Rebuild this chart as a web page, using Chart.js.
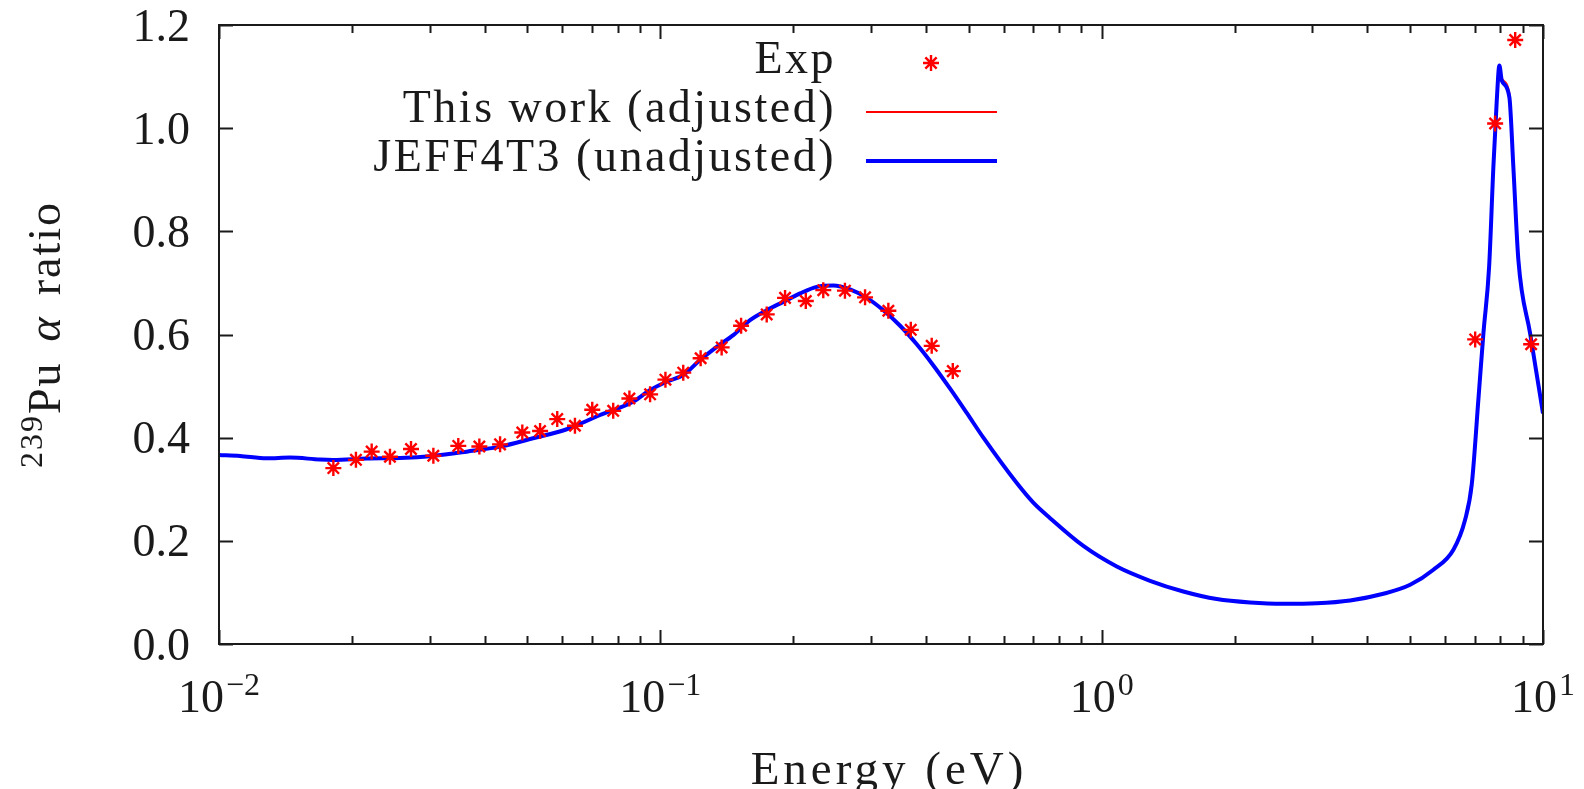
<!DOCTYPE html>
<html>
<head>
<meta charset="utf-8">
<script src="https://cdn.jsdelivr.net/npm/chart.js@4.4.1/dist/chart.umd.min.js"></script>
<style>
  html, body { margin: 0; padding: 0; background: #fff; }
  #wrap { width: 1584px; height: 789px; position: relative; }
</style>
</head>
<body>
<div id="wrap"><canvas id="alphaChart"></canvas></div>
<script>
// 239Pu alpha ratio vs energy — Exp points, adjusted and JEFF4T3 curves

const expEnergy = [0.01816, 0.02043, 0.02218, 0.0244, 0.02723, 0.0306, 0.03485, 0.0389, 0.04334, 0.04867,
  0.0534, 0.0584, 0.06405, 0.0701, 0.0782, 0.0851, 0.0948, 0.1027, 0.1127, 0.1234,
  0.1377, 0.1524, 0.1742, 0.1917, 0.2136, 0.234, 0.262, 0.291, 0.3286, 0.3694,
  0.412, 0.4599, 7.02, 7.79, 8.65, 9.40];
const expRatio = [0.341, 0.357, 0.373, 0.363, 0.378, 0.365, 0.384, 0.383, 0.387, 0.410,
  0.413, 0.436, 0.423, 0.454, 0.452, 0.476, 0.484, 0.5125, 0.526, 0.554,
  0.575, 0.617, 0.639, 0.671, 0.665, 0.686, 0.685, 0.672, 0.646, 0.609,
  0.578, 0.529, 0.5905, 1.009, 1.171, 0.581];

const calcEnergy = [0.01, 0.01116, 0.01283, 0.01449, 0.01694, 0.01813, 0.02162, 0.02572, 0.03054, 0.03641,
  0.04334, 0.05147, 0.06136, 0.07303, 0.08672, 0.0948, 0.1034, 0.1127, 0.1230, 0.1342,
  0.1463, 0.1597, 0.1742, 0.1900, 0.2073, 0.2262, 0.2466, 0.2691, 0.2936, 0.3201,
  0.3494, 0.3811, 0.4156, 0.4535, 0.4946, 0.5395, 0.6422, 0.700, 0.7641, 0.9089, 1.082,
  1.287, 1.531, 1.823, 2.169, 2.580, 3.072, 3.656, 4.349, 5.00, 5.645,
  6.266, 6.660, 6.897, 7.137, 7.328, 7.549, 7.719, 7.857, 7.965,
  8.065, 8.39, 8.567, 8.795, 9.35, 10.0];
const jeffRatio = [0.3665, 0.3646, 0.3600, 0.3615, 0.3575, 0.3568, 0.3595, 0.3605, 0.3646, 0.3729,
  0.3826, 0.3988, 0.4163, 0.4439, 0.4697, 0.4924, 0.5084, 0.5214, 0.5504, 0.5762,
  0.5988, 0.6279, 0.6472, 0.6633, 0.6796, 0.6924, 0.6951, 0.6873, 0.6710, 0.6470,
  0.6170, 0.5810, 0.5400, 0.4950, 0.4480, 0.4000, 0.3120, 0.2740, 0.2440, 0.1900, 0.1502,
  0.1226, 0.1018, 0.0871, 0.0805, 0.0780, 0.0790, 0.0844, 0.0974, 0.1148, 0.1439,
  0.1826, 0.2407, 0.3100, 0.4730, 0.6021, 0.7311, 0.9247, 1.0538, 1.1216,
  1.0925, 1.0602, 0.9247, 0.7441, 0.6021, 0.4472];
const adjRatio = [0.3665, 0.3646, 0.3600, 0.3615, 0.3575, 0.3568, 0.3595, 0.3605, 0.3646, 0.3729,
  0.3826, 0.3988, 0.4163, 0.4439, 0.4697, 0.4924, 0.5084, 0.5214, 0.5504, 0.5762,
  0.5988, 0.6279, 0.6472, 0.6633, 0.6796, 0.6924, 0.6951, 0.6873, 0.6710, 0.6470,
  0.6170, 0.5810, 0.5400, 0.4950, 0.4480, 0.4000, 0.3120, 0.2740, 0.2440, 0.1900, 0.1502,
  0.1226, 0.1018, 0.0871, 0.0805, 0.0780, 0.0790, 0.0844, 0.0974, 0.1148, 0.1439,
  0.1826, 0.2407, 0.3100, 0.4730, 0.6021, 0.7311, 0.9247, 1.0538, 1.1140,
  1.0960, 1.0680, 0.9300, 0.7460, 0.6040, 0.4440];

const yTicks = [0, 0.2, 0.4, 0.6, 0.8, 1.0, 1.2];
const xDecades = [-2, -1, 0, 1];
const legendLabels = ['Exp', 'This work (adjusted)', 'JEFF4T3 (unadjusted)'];

const FONT = '"Liberation Serif", "DejaVu Serif", serif';
const INK = '#1a1a1a';

function pts(xs, ys) { return xs.map((x, i) => ({ x, y: ys[i] })); }

function drawStar(ctx, x, y, r) {
  const d = r * Math.SQRT1_2;
  ctx.beginPath();
  ctx.moveTo(x - r, y); ctx.lineTo(x + r, y);
  ctx.moveTo(x, y - r); ctx.lineTo(x, y + r);
  ctx.moveTo(x - d, y - d); ctx.lineTo(x + d, y + d);
  ctx.moveTo(x - d, y + d); ctx.lineTo(x + d, y - d);
  ctx.stroke();
}

const framePlugin = {
  id: 'frame',
  afterDraw(chart) {
    const { ctx, chartArea: a, scales: { x, y } } = chart;
    ctx.save();
    ctx.strokeStyle = INK;
    ctx.lineWidth = 2;
    ctx.strokeRect(a.left, a.top, a.right - a.left, a.bottom - a.top);

    // y ticks, mirrored on the right
    yTicks.forEach(v => {
      const py = Math.round(y.getPixelForValue(v)) + 0.5;
      ctx.beginPath();
      ctx.moveTo(a.left, py); ctx.lineTo(a.left + 14, py);
      ctx.moveTo(a.right, py); ctx.lineTo(a.right - 14, py);
      ctx.stroke();
    });
    // x ticks, major and minor, mirrored on top
    xDecades.forEach(k => {
      for (let m = 1; m <= 9; m++) {
        const v = m * Math.pow(10, k);
        if (v < x.min * 0.999 || v > x.max * 1.001) continue;
        const px = Math.round(x.getPixelForValue(v)) + 0.5;
        const len = m === 1 ? 14 : 8;
        ctx.beginPath();
        ctx.moveTo(px, a.bottom); ctx.lineTo(px, a.bottom - len);
        ctx.moveTo(px, a.top); ctx.lineTo(px, a.top + len);
        ctx.stroke();
      }
    });

    ctx.fillStyle = INK;
    // y tick labels
    ctx.font = '46px ' + FONT;
    ctx.textAlign = 'right';
    ctx.textBaseline = 'alphabetic';
    yTicks.forEach(v => {
      ctx.fillText(v.toFixed(1), a.left - 29, y.getPixelForValue(v) + 15.5);
    });

    // x tick labels 10^k
    ctx.textAlign = 'left';
    xDecades.forEach(k => {
      const px = x.getPixelForValue(Math.pow(10, k));
      const sup = (k < 0 ? '\u2212' : '') + Math.abs(k);
      ctx.font = '46px ' + FONT;
      const wBase = ctx.measureText('10').width;
      ctx.font = '32px ' + FONT;
      const wSup = ctx.measureText(sup).width;
      const x0 = px - (wBase + wSup + 2) / 2;
      ctx.font = '46px ' + FONT;
      ctx.fillText('10', x0, 712);
      ctx.font = '32px ' + FONT;
      ctx.fillText(sup, x0 + wBase + 2, 695);
    });

    // x axis title
    ctx.letterSpacing = '4px';
    ctx.font = '47px ' + FONT;
    ctx.textAlign = 'center';
    ctx.fillText('Energy (eV)', (a.left + a.right) / 2 + 8, 784);

    // y axis title, rotated
    ctx.save();
    ctx.translate(60, (a.top + a.bottom) / 2);
    ctx.rotate(-Math.PI / 2);
    const parts = [
      { t: '239', f: '32px ' + FONT, dy: -18, gap: 0 },
      { t: 'Pu', f: '46px ' + FONT, dy: 0, gap: 20 },
      { t: '\u03b1', f: 'italic 46px ' + FONT, dy: 0, gap: 20 },
      { t: 'ratio', f: '46px ' + FONT, dy: 0, gap: 0 }
    ];
    ctx.letterSpacing = '2px';
    let total = 0;
    parts.forEach(p => { ctx.font = p.f; p.w = ctx.measureText(p.t).width; total += p.w + p.gap; });
    let cx = -total / 2;
    ctx.textAlign = 'left';
    parts.forEach(p => { ctx.font = p.f; ctx.fillText(p.t, cx, p.dy); cx += p.w + p.gap; });
    ctx.restore();

    // legend, gnuplot style: text right-aligned, sample to the right
    const rows = [63, 112, 161];
    ctx.letterSpacing = '2.5px';
    ctx.font = '46px ' + FONT;
    ctx.textAlign = 'right';
    legendLabels.forEach((t, i) => ctx.fillText(t, 836, rows[i] + 9.5));
    ctx.letterSpacing = '0px';
    ctx.strokeStyle = '#ff0000';
    ctx.lineWidth = 2.4;
    drawStar(ctx, 931, rows[0], 8);
    ctx.lineWidth = 2;
    ctx.beginPath(); ctx.moveTo(866, rows[1]); ctx.lineTo(997, rows[1]); ctx.stroke();
    ctx.strokeStyle = '#0000ff';
    ctx.lineWidth = 4;
    ctx.beginPath(); ctx.moveTo(866, rows[2]); ctx.lineTo(997, rows[2]); ctx.stroke();
    ctx.restore();
  }
};

new Chart(document.getElementById('alphaChart'), {
  type: 'scatter',
  data: {
    datasets: [
      {
        label: legendLabels[0],
        data: pts(expEnergy, expRatio),
        pointStyle: 'star', pointRadius: 8, pointBorderWidth: 2.4,
        borderColor: '#ff0000', backgroundColor: '#ff0000',
        showLine: false, order: 0
      },
      {
        label: legendLabels[1],
        data: pts(calcEnergy, adjRatio),
        showLine: true, pointRadius: 0, borderWidth: 2,
        borderColor: '#ff2020', cubicInterpolationMode: 'monotone',
        fill: false, order: 2
      },
      {
        label: legendLabels[2],
        data: pts(calcEnergy, jeffRatio),
        showLine: true, pointRadius: 0, borderWidth: 4,
        borderColor: '#0000ff', cubicInterpolationMode: 'monotone',
        fill: false, order: 1
      }
    ]
  },
  options: {
    responsive: true,
    maintainAspectRatio: false,
    animation: false,
    layout: { padding: { top: 25, right: 41, left: 0, bottom: 0 } },
    plugins: { legend: { display: false }, tooltip: { enabled: false } },
    scales: {
      x: {
        type: 'logarithmic', min: 0.01, max: 10,
        ticks: { display: false }, grid: { display: false }, border: { display: false },
        afterFit: s => { s.height = 145; }
      },
      y: {
        min: 0, max: 1.2,
        ticks: { display: false }, grid: { display: false }, border: { display: false },
        afterFit: s => { s.width = 219; }
      }
    }
  },
  plugins: [framePlugin]
});
</script>
</body>
</html>
